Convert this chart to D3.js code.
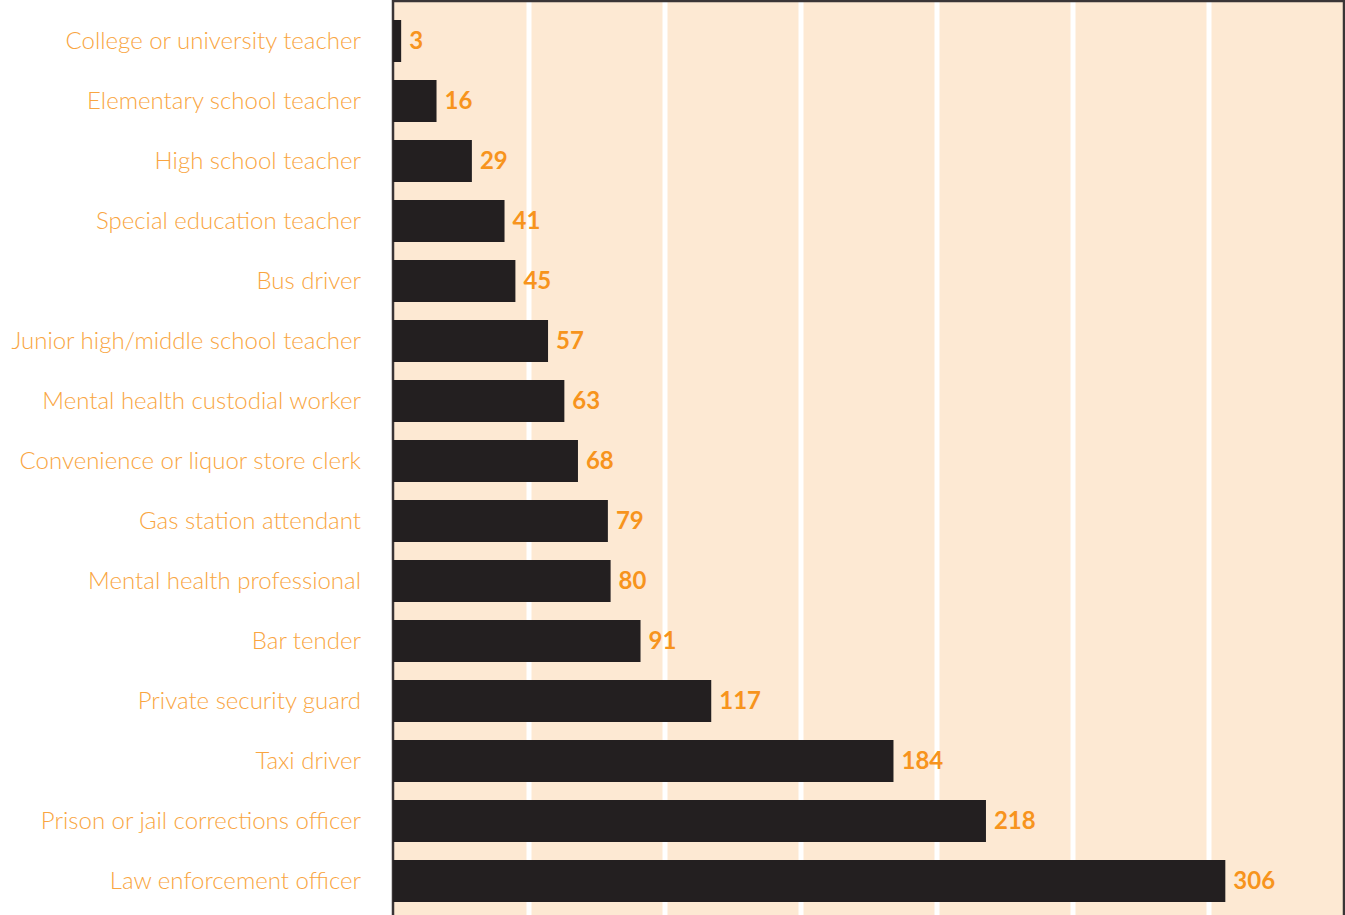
<!DOCTYPE html>
<html>
<head>
<meta charset="utf-8">
<script src="https://cdn.jsdelivr.net/npm/d3@7"></script>
<style>
  body { margin: 0; background: #fff; }
  svg { display: block; }
</style>
</head>
<body>
<svg id="chart" width="1345" height="915"></svg>
<script>
// categories, top to bottom
let occupations = [
    "College or university teacher",
    "Elementary school teacher",
    "High school teacher",
    "Special education teacher",
    "Bus driver",
    "Junior high/middle school teacher",
    "Mental health custodial worker",
    "Convenience or liquor store clerk",
    "Gas station attendant",
    "Mental health professional",
    "Bar tender",
    "Private security guard",
    "Taxi driver",
    "Prison or jail corrections officer",
    "Law enforcement officer"
];
let rates = [3, 16, 29, 41, 45, 57, 63, 68, 79, 80, 91, 117, 184, 218, 306];
let gridValues = [50, 100, 150, 200, 250, 300];

let svg = d3.select("#chart"),
    width = 1345,
    height = 915;

let plotLeft = 393;

let x = d3.scaleLinear().domain([0, 350]).range([plotLeft, width]);
let y = d3.scaleBand().domain(occupations).range([11, 911])
    .paddingInner(0.3).paddingOuter(0.15);

// Plot background
svg.append("rect")
    .attr("x", plotLeft)
    .attr("y", 0)
    .attr("width", width - plotLeft)
    .attr("height", height)
    .attr("fill", "#fde9d3");

// White grid lines
svg.append("g")
    .attr("class", "grid")
    .selectAll("line")
    .data(gridValues)
    .enter()
    .append("line")
    .attr("x1", d => x(d))
    .attr("x2", d => x(d))
    .attr("y1", 2)
    .attr("y2", height)
    .attr("stroke", "#ffffff")
    .attr("stroke-width", 5);

// Frame: top, left, right
svg.append("path")
    .attr("d", "M" + (plotLeft) + "," + height + "V1H" + (width - 1) + "V" + height)
    .attr("fill", "none")
    .attr("stroke", "#3a3536")
    .attr("stroke-width", 2.5);

// Bars
svg.append("g")
    .attr("class", "bars")
    .selectAll("rect")
    .data(rates)
    .enter()
    .append("rect")
    .attr("x", x(0))
    .attr("y", (d, i) => y(occupations[i]))
    .attr("width", d => x(d) - x(0))
    .attr("height", y.bandwidth())
    .attr("fill", "#231f20");

// Value labels
svg.append("g")
    .attr("class", "values")
    .selectAll("text")
    .data(rates)
    .enter()
    .append("text")
    .attr("x", d => x(d) + 8)
    .attr("y", (d, i) => y(occupations[i]) + y.bandwidth() / 2)
    .attr("dy", "0.35em")
    .attr("font-family", "Lato, 'Open Sans', sans-serif")
    .attr("font-weight", "bold")
    .attr("font-size", 24)
    .attr("fill", "#f7941d")
    .text(d => d);

// Category labels
svg.append("g")
    .attr("class", "labels")
    .selectAll("text")
    .data(occupations)
    .enter()
    .append("text")
    .attr("x", 361)
    .attr("y", d => y(d) + y.bandwidth() / 2)
    .attr("dy", "0.35em")
    .attr("text-anchor", "end")
    .attr("font-family", "Lato, sans-serif")
    .attr("font-weight", 300)
    .attr("font-size", 24)
    .attr("fill", "#f9a541")
    .text(d => d);
</script>
</body>
</html>
